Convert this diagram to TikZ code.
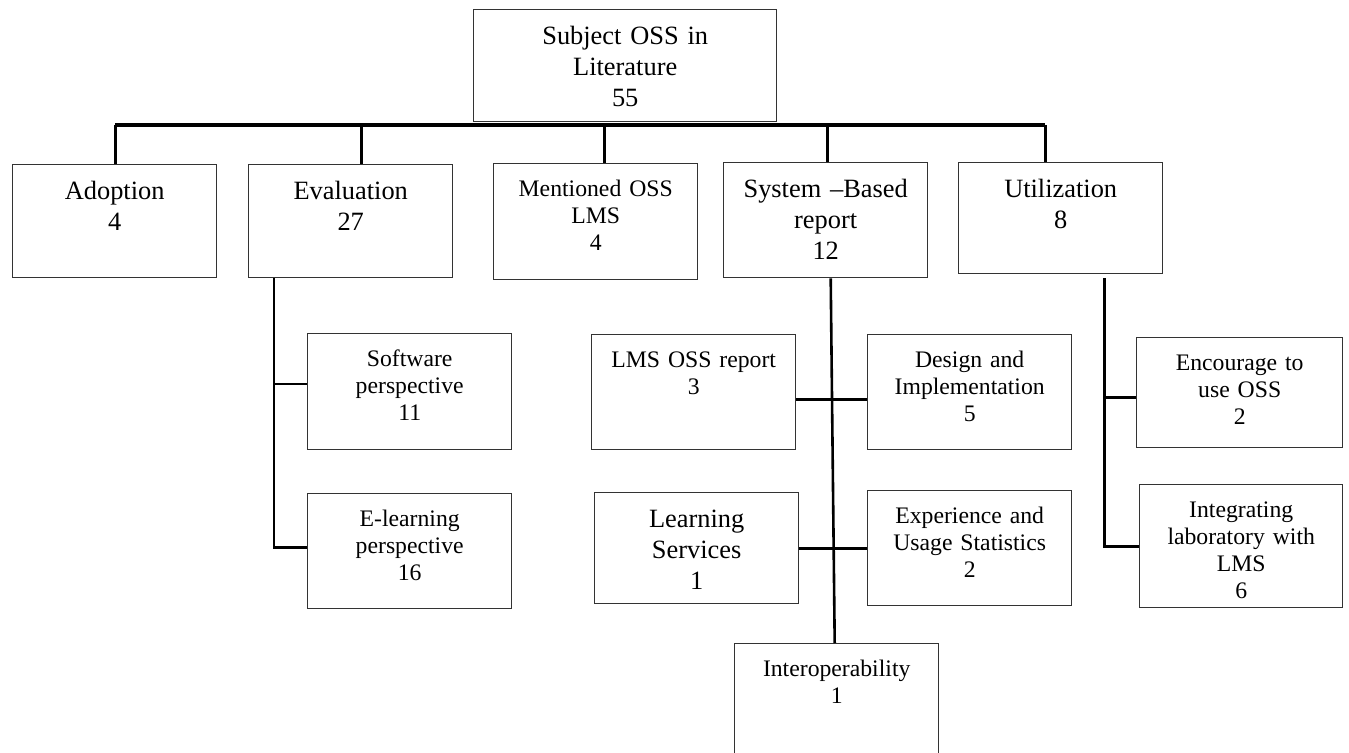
\documentclass[tikz,border=0pt]{standalone}
\usepackage{fontspec}
\setmainfont{Liberation Serif}
\usetikzlibrary{calc}
\tikzset{
  box/.style={draw=black!80,line width=.7pt,inner sep=0pt,anchor=north west,text width=102pt,align=center,text depth=#1},
  box/.default=39pt,
  big/.style={font=\fontsize{13.2}{15.5}\selectfont,text height=17.5pt},
  small/.style={font=\fontsize{11.85}{13.5}\selectfont,text height=16.5pt},
  link/.style={draw=black,line width=1.3pt},
  bus/.style={draw=black,line width=2pt},
}

\begin{document}
\begin{tikzpicture}[x=.5pt,y=-.5pt]
  \useasboundingbox (0,0) rectangle (1349,753);
  \clip (0,0) rectangle (1349,753);
  % root
  \node[box=38.5pt,big,text width=151.5pt] (root) at (473,9) {Subject OSS in\\Literature\\55};
  % first level
  \node[box,big] (adopt) at (12,164) {Adoption\\4};
  \node[box,big] (eval) at (248,164) {Evaluation\\27};
  \node[box=41.5pt,small] (mention) at (493,163) {Mentioned OSS\\LMS\\4};
  \node[box=40pt,big] (sysb) at (723,162) {System --Based\\report\\12};
  \node[box=38pt,big] (util) at (958,162) {Utilization\\8};
  % evaluation
  \node[box=41.5pt,small] (soft) at (307,333) {Software\\perspective\\11};
  \node[box=41pt,small] (elearn) at (307,493) {E-learning\\perspective\\16};
  % system based report
  \node[box=41pt,small] (lmsrep) at (591,334) {LMS OSS report\\3};
  \node[box=41pt,small] (design) at (867,334) {Design and\\Implementation\\5};
  \node[box=38pt,big] (learn) at (594,492) {Learning\\Services\\1};
  \node[box=41pt,small] (exper) at (867,490) {Experience and\\Usage Statistics\\2};
  \node[box=49pt,small] (inter) at (734,643) {Interoperability\\1};
  % utilization
  \node[box=38.5pt,small,text width=103pt] (encour) at (1136,337) {Encourage to\\use OSS\\2};
  \node[box=45pt,small,text width=101.5pt] (integ) at (1139,484) {Integrating\\laboratory with\\LMS\\6};

  % bus under the root
  \coordinate (busL) at (115,125.5);
  \coordinate (busR) at (1045,125.5);
  \draw[bus] (busL) -- (busR);
  \foreach \n/\d in {adopt/1,eval/11,mention/8.5,sysb/2,util/-15}
    \draw[link] ($(\n.north)+(\d,0)$) coordinate (t) -- (t |- busL);

  \draw[link] ($(eval.south west)+(26,0)$) coordinate (ev) |- ($(elearn.west)+(0,-3.5)$);
  \draw[link] ($(soft.west)+(0,-7.5)$) coordinate (s) -- (s -| ev);

  \draw[link] ($(sysb.south)+(5,0)$) -- ($(inter.north)+(-2,0)$);
  \draw[link] ($(lmsrep.east)+(0,7.5)$) -- ($(design.west)+(0,7.5)$);
  \draw[link] (learn.east) -- (exper.west);

  \draw[link] ($(util.south)+(44,4)$) coordinate (ut) |- (integ.west);
  \draw[link] ($(encour.west)+(0,5)$) coordinate (e) -- (e -| ut);
\end{tikzpicture}
\end{document}
